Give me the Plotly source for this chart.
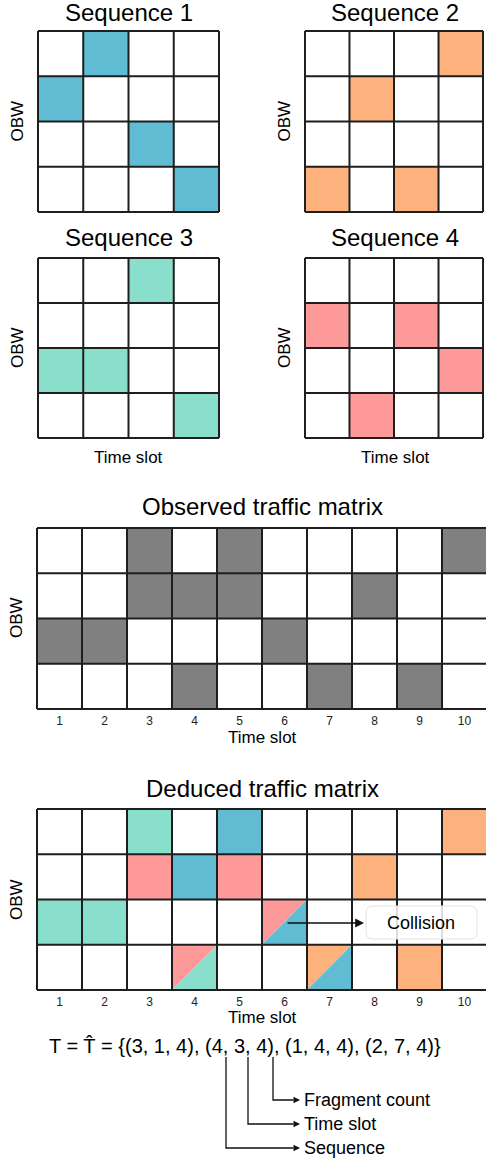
import plotly.graph_objects as go

W, H = 486, 1162
FONT = "Liberation Sans, Arial, Helvetica, sans-serif"

# ---------------- data ----------------
seq_titles = ["Sequence 1", "Sequence 2", "Sequence 3", "Sequence 4"]
seq_colors = ["#5FBCD3", "#FDB27E", "#8ADFCC", "#FE9A9A"]
# occupied OBW row (0 = top row) for each of the 4 time slots of the sequence
seq1_rows = [1, 0, 2, 3]
seq2_rows = [3, 1, 3, 0]
seq3_rows = [2, 2, 0, 3]
seq4_rows = [1, 3, 1, 2]
seq_rows = [seq1_rows, seq2_rows, seq3_rows, seq4_rows]

# T = {(sequence, start time slot, fragment count)}
T_sequence = [3, 4, 1, 2]
T_start = [1, 3, 4, 7]
T_frag = [4, 4, 4, 4]

n_obw = 4
n_slots = 10
time_tick_labels = [str(i) for i in range(1, 11)]
observed_color = "#808080"
# on a collision, the sequence earlier in this list takes the upper-left half
collision_upper_priority = [4, 2, 1, 3]

formula_text = "T = T\u0302 = {(3, 1, 4), (4, 3, 4), (1, 4, 4), (2, 7, 4)}"
legend_labels = ["Fragment count", "Time slot", "Sequence"]

# ---------------- helpers ----------------
LINE_COLOR = "#1e1e1e"
LW = 2


def px_x(p):
    return p / W


def px_y(p):
    return 1 - p / H


layout_axes = {}
shapes = []
annotations = []


def add_axes(idx, left, right, top, bottom, ncols, nrows, ticks=False, pad=3, clip_right=None):
    cw = (right - left) / ncols
    ch = (bottom - top) / nrows
    dl = left - pad
    dr = right + pad if clip_right is None else clip_right
    xr = [(dl - left) / cw, (dr - left) / cw]
    dt, db = top - pad, bottom + pad
    yr = [(db - top) / ch, (dt - top) / ch]
    xa = dict(domain=[px_x(dl), min(1.0, px_x(dr))], range=xr, showgrid=False, zeroline=False,
              showline=False, fixedrange=True, anchor="y" if idx == 1 else f"y{idx}")
    if ticks:
        xa.update(tickmode="array", tickvals=[i + 0.5 for i in range(ncols)],
                  ticktext=time_tick_labels, ticks="",
                  tickfont=dict(size=12, color="#222", family=FONT))
    else:
        xa.update(showticklabels=False, ticks="")
    ya = dict(domain=[px_y(db), px_y(dt)], range=yr, showgrid=False, zeroline=False,
              showline=False, showticklabels=False, ticks="", fixedrange=True,
              anchor="x" if idx == 1 else f"x{idx}")
    k = "" if idx == 1 else str(idx)
    layout_axes["xaxis" + k] = xa
    layout_axes["yaxis" + k] = ya
    return ("x" + k, "y" + k)


def fill_cell(ref, c, r, color):
    shapes.append(dict(type="rect", xref=ref[0], yref=ref[1], x0=c, x1=c + 1, y0=r, y1=r + 1,
                       fillcolor=color, line=dict(width=0), layer="above"))


def fill_tri(ref, c, r, color, upper):
    if upper:
        path = f"M {c},{r} L {c + 1},{r} L {c},{r + 1} Z"
    else:
        path = f"M {c + 1},{r} L {c + 1},{r + 1} L {c},{r + 1} Z"
    shapes.append(dict(type="path", xref=ref[0], yref=ref[1], path=path,
                       fillcolor=color, line=dict(width=0), layer="above"))


def grid_lines(ref, ncols, nrows):
    for c in range(ncols + 1):
        shapes.append(dict(type="line", xref=ref[0], yref=ref[1], x0=c, x1=c, y0=0, y1=nrows,
                           line=dict(color=LINE_COLOR, width=LW), layer="above"))
    for r in range(nrows + 1):
        shapes.append(dict(type="line", xref=ref[0], yref=ref[1], x0=0, x1=ncols, y0=r, y1=r,
                           line=dict(color=LINE_COLOR, width=LW), layer="above"))


def text(x, y, s, size, xanchor="center", yanchor="middle", angle=0, color="#000"):
    annotations.append(dict(x=px_x(x), y=px_y(y), xref="paper", yref="paper", text=s,
                            showarrow=False, xanchor=xanchor, yanchor=yanchor, textangle=angle,
                            font=dict(size=size, color=color, family=FONT)))


# ---------------- sequence grids ----------------
small_pos = [(38, 219, 31, 212), (305, 485, 31, 212), (38, 219, 258, 438), (305, 485, 258, 438)]
title_y = [12.5, 12.5, 237, 237]
for i in range(4):
    l, r, t, b = small_pos[i]
    ref = add_axes(i + 1, l, r, t, b, 4, n_obw)
    for c, row in enumerate(seq_rows[i]):
        fill_cell(ref, c, row, seq_colors[i])
    grid_lines(ref, 4, n_obw)
    text((l + r) / 2, title_y[i], seq_titles[i], 24)
    text(l - 21, (t + b) / 2, "OBW", 17, angle=-90)
    if i >= 2:
        text((l + r) / 2, 457, "Time slot", 17)

# ---------------- observed & deduced ----------------
occupancy = {}
for s, st in zip(T_sequence, T_start):
    for k, row in enumerate(seq_rows[s - 1]):
        occupancy.setdefault((st - 1 + k, row), []).append(s)

# observed
obs_ref = add_axes(5, 37, 487, 528, 709, n_slots, n_obw, ticks=True, clip_right=486)
for (c, r), lst in occupancy.items():
    fill_cell(obs_ref, c, r, observed_color)
grid_lines(obs_ref, n_slots, n_obw)
text(262, 507, "Observed traffic matrix", 24)
text(16, 618, "OBW", 17, angle=-90)
text(262, 737, "Time slot", 17)

# deduced
ded_ref = add_axes(6, 37, 487, 809, 990, n_slots, n_obw, ticks=True, clip_right=486)
for (c, r), lst in occupancy.items():
    if len(lst) == 1:
        fill_cell(ded_ref, c, r, seq_colors[lst[0] - 1])
    else:
        ordered = sorted(lst, key=lambda s: collision_upper_priority.index(s))
        fill_tri(ded_ref, c, r, seq_colors[ordered[0] - 1], True)
        fill_tri(ded_ref, c, r, seq_colors[ordered[1] - 1], False)
grid_lines(ded_ref, n_slots, n_obw)
text(262, 788, "Deduced traffic matrix", 24)
text(16, 900, "OBW", 17, angle=-90)
text(262, 1017, "Time slot", 17)

# collision callout
bx0, bx1, by0, by1, rad = 366, 477, 906, 939, 7
X = px_x
Y = px_y
path = (f"M {X(bx0 + rad)},{Y(by0)} L {X(bx1 - rad)},{Y(by0)} "
        f"Q {X(bx1)},{Y(by0)} {X(bx1)},{Y(by0 + rad)} L {X(bx1)},{Y(by1 - rad)} "
        f"Q {X(bx1)},{Y(by1)} {X(bx1 - rad)},{Y(by1)} L {X(bx0 + rad)},{Y(by1)} "
        f"Q {X(bx0)},{Y(by1)} {X(bx0)},{Y(by1 - rad)} L {X(bx0)},{Y(by0 + rad)} "
        f"Q {X(bx0)},{Y(by0)} {X(bx0 + rad)},{Y(by0)} Z")
shapes.append(dict(type="path", xref="paper", yref="paper", path=path,
                   fillcolor="rgba(255,255,255,0.85)", line=dict(color="#e2e2e2", width=1),
                   layer="above"))
text(421, 923, "Collision", 18)
annotations.append(dict(x=px_x(364), y=px_y(923), xref="paper", yref="paper", ax=-78, ay=0,
                        axref="pixel", ayref="pixel", text="", showarrow=True, arrowhead=2,
                        arrowsize=1.1, arrowwidth=1.6, arrowcolor="#111"))

# ---------------- formula ----------------
text(245, 1046, formula_text, 20)
line_x = [273, 248, 226]
line_y = [1100, 1124, 1148]
for lx, ly, lab in zip(line_x, line_y, legend_labels):
    shapes.append(dict(type="path", xref="paper", yref="paper",
                       path=f"M {X(lx)},{Y(1057)} L {X(lx)},{Y(ly)} L {X(293)},{Y(ly)}",
                       line=dict(color="#111", width=1.3), layer="above"))
    annotations.append(dict(x=px_x(300), y=px_y(ly), xref="paper", yref="paper", ax=-8, ay=0,
                            axref="pixel", ayref="pixel", text="", showarrow=True, arrowhead=2,
                            arrowsize=1.0, arrowwidth=1.3, arrowcolor="#111"))
    text(302, ly, lab, 18, xanchor="left")

fig = go.Figure()
# invisible anchor traces so every subplot axis is rendered
for i in range(1, 7):
    k = "" if i == 1 else str(i)
    fig.add_trace(go.Scatter(x=[0.5], y=[0.5], xaxis="x" + k, yaxis="y" + k, mode="markers",
                             marker=dict(opacity=0), hoverinfo="skip", showlegend=False))

fig.update_layout(width=W, height=H, margin=dict(l=0, r=0, t=0, b=0),
                  paper_bgcolor="white", plot_bgcolor="white", showlegend=False,
                  shapes=shapes, annotations=annotations, **layout_axes)
fig.write_html("out.html", config={"displayModeBar": False},
               post_script="document.body.style.margin='0';document.body.style.padding='0';")
